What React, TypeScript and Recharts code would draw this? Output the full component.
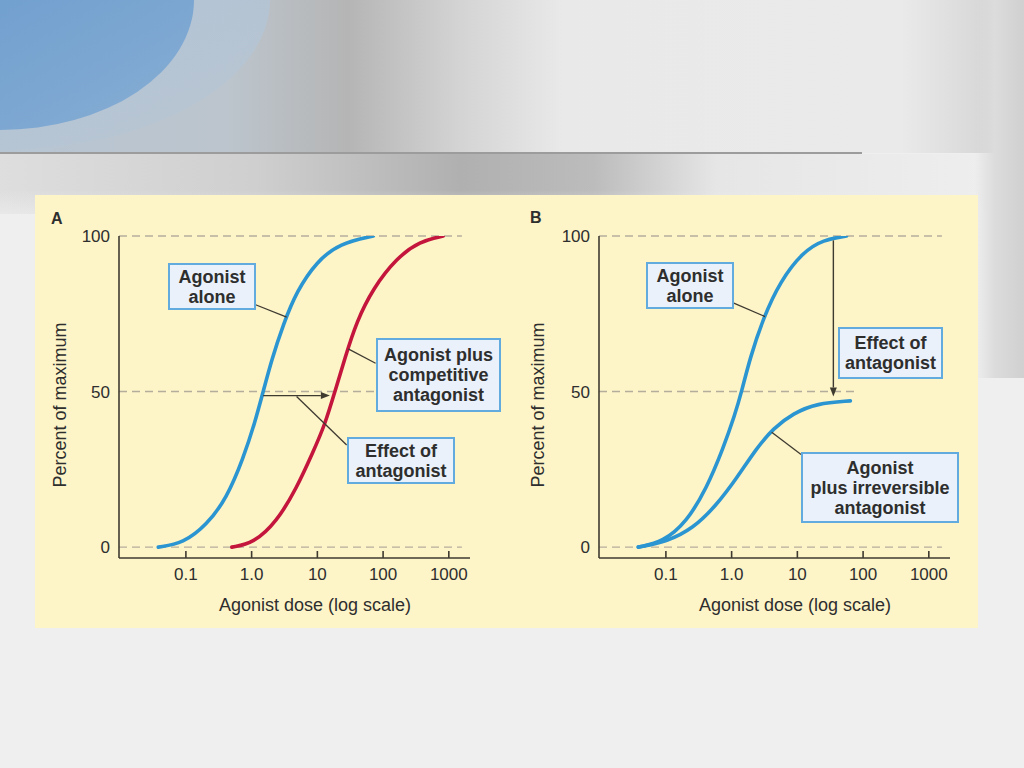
import React from "react";
import { LineChart, Line, XAxis, YAxis, ReferenceLine } from "recharts";

type Pt = { x: number; y: number };

// agonist dose (log axis) vs percent of maximum
const AGONIST_A: Pt[] = [
  { x: 0.038, y: 0 }, { x: 0.091, y: 1.2 }, { x: 0.207, y: 7.1 }, { x: 0.417, y: 15.7 },
  { x: 0.745, y: 28.5 }, { x: 1.12, y: 40 }, { x: 1.5, y: 50 }, { x: 2.0, y: 60 },
  { x: 3.02, y: 71.5 }, { x: 4.83, y: 82.2 }, { x: 9.75, y: 91.8 }, { x: 22, y: 97.7 },
  { x: 71, y: 100 },
];
const COMPETITIVE_A: Pt[] = [
  { x: 0.5, y: 0 }, { x: 1.06, y: 1.2 }, { x: 2.4, y: 8.1 }, { x: 4.83, y: 18.9 },
  { x: 8.65, y: 30.7 }, { x: 13, y: 39.3 }, { x: 18.5, y: 50 }, { x: 26.2, y: 60.7 },
  { x: 39.5, y: 72.5 }, { x: 70.6, y: 83.2 }, { x: 160, y: 92.9 }, { x: 363, y: 98.3 },
  { x: 820, y: 100 },
];
const AGONIST_B: Pt[] = [
  { x: 0.038, y: 0 }, { x: 0.091, y: 1.7 }, { x: 0.207, y: 8.1 }, { x: 0.416, y: 18.9 },
  { x: 0.745, y: 31.8 }, { x: 1.12, y: 42.5 }, { x: 1.42, y: 50 }, { x: 1.9, y: 60.7 },
  { x: 3.03, y: 73.6 }, { x: 5.45, y: 85.4 }, { x: 12.3, y: 95 }, { x: 24.8, y: 98.8 },
  { x: 56, y: 100 },
];
const IRREVERSIBLE_B: Pt[] = [
  { x: 0.038, y: 0 }, { x: 0.102, y: 1.7 }, { x: 0.26, y: 6 }, { x: 0.59, y: 13.5 },
  { x: 1.19, y: 22.1 }, { x: 2.4, y: 31.8 }, { x: 4.3, y: 38.2 }, { x: 8.67, y: 43 },
  { x: 19.7, y: 46.2 }, { x: 64, y: 47 },
];

const X_TICKS = [0.1, 1, 10, 100, 1000];
const X_TICK_LABELS = ["0.1", "1.0", "10", "100", "1000"];
const Y_TICKS = [0, 50, 100];
const X_DOMAIN: [number, number] = [0.0096, 2100];
const Y_DOMAIN: [number, number] = [-3.5, 100];

// dashed guide lines: level and where they stop
const GUIDES_A = [{ y: 100, to: 1580 }, { y: 50, to: 1580 }, { y: 0, to: 1580 }];
const GUIDES_B = [{ y: 100, to: 1580 }, { y: 50, to: 75 }, { y: 0, to: 1580 }];

// callout leader lines [from, to] in data units
const LEADERS_A: [Pt, Pt][] = [
  [{ x: 1.15, y: 77.9 }, { x: 3.41, y: 73.9 }],
  [{ x: 29.5, y: 63.7 }, { x: 76.9, y: 59.1 }],
  [{ x: 4.83, y: 48.4 }, { x: 27.9, y: 32.8 }],
];
const LEADERS_B: [Pt, Pt][] = [
  [{ x: 1.08, y: 78.4 }, { x: 3.22, y: 74.1 }],
  [{ x: 4.07, y: 36.9 }, { x: 11.4, y: 29.8 }],
];
const ARROW_A: [Pt, Pt] = [{ x: 1.5, y: 48.7 }, { x: 15.5, y: 48.7 }];
const ARROW_B: [Pt, Pt] = [{ x: 35.3, y: 98.6 }, { x: 35.3, y: 48.4 }];

const FONT = '"Liberation Sans", Arial, Helvetica, sans-serif';
const AXIS = "#3e3a30";
const INK = "#2e2e2e";
const BLUE = "#2a95d1";
const RED = "#c4163c";
const GUIDE = "#b5ad9c";

function ArrowShape(props: any) {
  const { x1, y1, x2, y2 } = props;
  if (x1 == null) return null;
  const a = Math.atan2(y2 - y1, x2 - x1);
  const L = 9, W = 3.5;
  const bx = x2 - L * Math.cos(a), by = y2 - L * Math.sin(a);
  const pts = `${x2},${y2} ${bx - W * Math.sin(a)},${by + W * Math.cos(a)} ${bx + W * Math.sin(a)},${by - W * Math.cos(a)}`;
  return (
    <g>
      <line x1={x1} y1={y1} x2={bx} y2={by} stroke={AXIS} strokeWidth={1.4} />
      <polygon points={pts} fill={AXIS} />
    </g>
  );
}

function Panel({
  series, guides, leaders, arrow, width, margin,
}: {
  series: { data: Pt[]; color: string; name: string }[];
  guides: { y: number; to: number }[];
  leaders: [Pt, Pt][];
  arrow: [Pt, Pt];
  width: number;
  margin: { top: number; right: number; left: number; bottom: number };
}) {
  return (
    <LineChart width={width} height={433} margin={margin}>
      <XAxis
        dataKey="x" type="number" scale="log" domain={X_DOMAIN} ticks={X_TICKS}
        allowDataOverflow height={40}
        tickFormatter={(v: number) => X_TICK_LABELS[X_TICKS.indexOf(v)] ?? String(v)}
        tickSize={-7} tickMargin={17}
        tick={{ fontSize: 17, fill: INK, fontFamily: FONT }}
        axisLine={{ stroke: AXIS, strokeWidth: 1.6 }}
        tickLine={{ stroke: AXIS, strokeWidth: 1.6 }}
      />
      <YAxis
        type="number" domain={Y_DOMAIN} ticks={Y_TICKS} allowDataOverflow width={40}
        tickLine={false} tickSize={0} tickMargin={9}
        tick={{ fontSize: 17, fill: INK, fontFamily: FONT }}
        axisLine={{ stroke: AXIS, strokeWidth: 1.6 }}
      />
      {guides.map((g) => (
        <ReferenceLine
          key={`g${g.y}`}
          segment={[{ x: X_DOMAIN[0], y: g.y }, { x: g.to, y: g.y }]}
          stroke={GUIDE} strokeWidth={1.4} strokeDasharray="8 5"
        />
      ))}
      {series.map((s) => (
        <Line
          key={s.name} data={s.data} dataKey="y" name={s.name} type="basis"
          stroke={s.color} strokeWidth={3.6} dot={false} strokeLinecap="round"
          isAnimationActive={false}
        />
      ))}
      {leaders.map((l, i) => (
        <ReferenceLine key={`l${i}`} segment={l} stroke={AXIS} strokeWidth={1.3} />
      ))}
      <ReferenceLine segment={arrow} shape={ArrowShape} />
    </LineChart>
  );
}

function Callout({ left, top, width, height, lines }: {
  left: number; top: number; width: number; height: number; lines: string[];
}) {
  return (
    <div
      style={{
        position: "absolute", left, top, width, height, boxSizing: "border-box",
        background: "#eaf1fa", border: "2px solid #62abde",
        display: "flex", flexDirection: "column", justifyContent: "center",
        alignItems: "center", fontWeight: 700, fontSize: 18, lineHeight: "20px", color: INK,
      }}
    >
      {lines.map((t) => (
        <div key={t} style={{ whiteSpace: "nowrap" }}>{t}</div>
      ))}
    </div>
  );
}

const abs = (s: React.CSSProperties): React.CSSProperties => ({ position: "absolute", ...s });

export default function App() {
  return (
    <div style={abs({ left: 0, top: 0, width: 1024, height: 768, overflow: "hidden", background: "#efefef", fontFamily: FONT })}>
      {/* slide backdrop */}
      <div style={abs({
        left: 0, top: 0, width: 1024, height: 153,
        background: "linear-gradient(90deg, #b7c5d3 0%, #bcc5cd 22%, #b5b5b5 34%, #d4d4d4 45%, #e9e9e9 55%, #eaeaea 88%, #dadada 95%, #c8c8c8 100%)",
      })} />
      <div style={abs({
        left: 0, top: 0, width: 270, height: 150, borderBottomRightRadius: "100% 100%",
        background: "linear-gradient(160deg, #b0c3d7 0%, #b9c6d2 100%)", opacity: 0.85,
      })} />
      <div style={abs({
        left: 0, top: 0, width: 194, height: 130, borderBottomRightRadius: "100% 100%",
        background: "linear-gradient(150deg, #72a0cf 0%, #7ea8d2 60%, #8cb0d5 100%)",
      })} />
      <div style={abs({ left: 0, top: 152, width: 862, height: 2, background: "#9c9c9c" })} />
      <div style={abs({
        left: 0, top: 154, width: 1024, height: 60,
        background: "linear-gradient(90deg, #dedede 0%, #cfcfcf 25%, #b0b0b0 45%, #bcbcbc 58%, #e6e6e6 70%, #efefef 100%)",
      })} />
      <div style={abs({
        left: 0, top: 190, width: 1024, height: 40,
        background: "linear-gradient(180deg, rgba(239,239,239,0) 0%, #efefef 100%)",
      })} />
      <div style={abs({
        left: 975, top: 0, width: 49, height: 378,
        background: "linear-gradient(90deg, rgba(225,225,225,0) 0%, #dcdcdc 40%, #d0d0d0 100%)",
      })} />

      {/* figure panel */}
      <div style={abs({ left: 35, top: 195, width: 943, height: 433, background: "#fdf4c8" })} />

      <div style={abs({ left: 35, top: 195 })}>
        <Panel
          width={470}
          margin={{ top: 41, right: 35, left: 44, bottom: 30 }}
          series={[
            { data: AGONIST_A, color: BLUE, name: "Agonist alone" },
            { data: COMPETITIVE_A, color: RED, name: "Agonist plus competitive antagonist" },
          ]}
          guides={GUIDES_A}
          leaders={LEADERS_A}
          arrow={ARROW_A}
        />
      </div>
      <div style={abs({ left: 505, top: 195 })}>
        <Panel
          width={473}
          margin={{ top: 41, right: 28, left: 54, bottom: 30 }}
          series={[
            { data: AGONIST_B, color: BLUE, name: "Agonist alone" },
            { data: IRREVERSIBLE_B, color: BLUE, name: "Agonist plus irreversible antagonist" },
          ]}
          guides={GUIDES_B}
          leaders={LEADERS_B}
          arrow={ARROW_B}
        />
      </div>

      {/* panel letters */}
      <div style={abs({ left: 51, top: 211, fontSize: 16, lineHeight: "16px", fontWeight: 700, color: INK })}>A</div>
      <div style={abs({ left: 530, top: 210, fontSize: 16, lineHeight: "16px", fontWeight: 700, color: INK })}>B</div>

      {/* axis titles */}
      {[315, 795].map((cx) => (
        <div key={cx} style={abs({ left: cx - 120, top: 594, width: 240, textAlign: "center", fontSize: 18, lineHeight: "22px", color: INK })}>
          Agonist dose (log scale)
        </div>
      ))}
      {[60, 538].map((cx) => (
        <div key={cx} style={abs({
          left: cx - 110, top: 394, width: 220, height: 22, textAlign: "center",
          fontSize: 18, lineHeight: "22px", color: INK, transform: "rotate(-90deg)",
        })}>
          Percent of maximum
        </div>
      ))}

      {/* callouts */}
      <Callout left={168} top={263} width={88} height={47} lines={["Agonist", "alone"]} />
      <Callout left={376} top={338} width={125} height={74} lines={["Agonist plus", "competitive", "antagonist"]} />
      <Callout left={347} top={437} width={108} height={47} lines={["Effect of", "antagonist"]} />
      <Callout left={646} top={262} width={88} height={47} lines={["Agonist", "alone"]} />
      <Callout left={838} top={327} width={105} height={52} lines={["Effect of", "antagonist"]} />
      <Callout left={801} top={452} width={158} height={71} lines={["Agonist", "plus irreversible", "antagonist"]} />
    </div>
  );
}
